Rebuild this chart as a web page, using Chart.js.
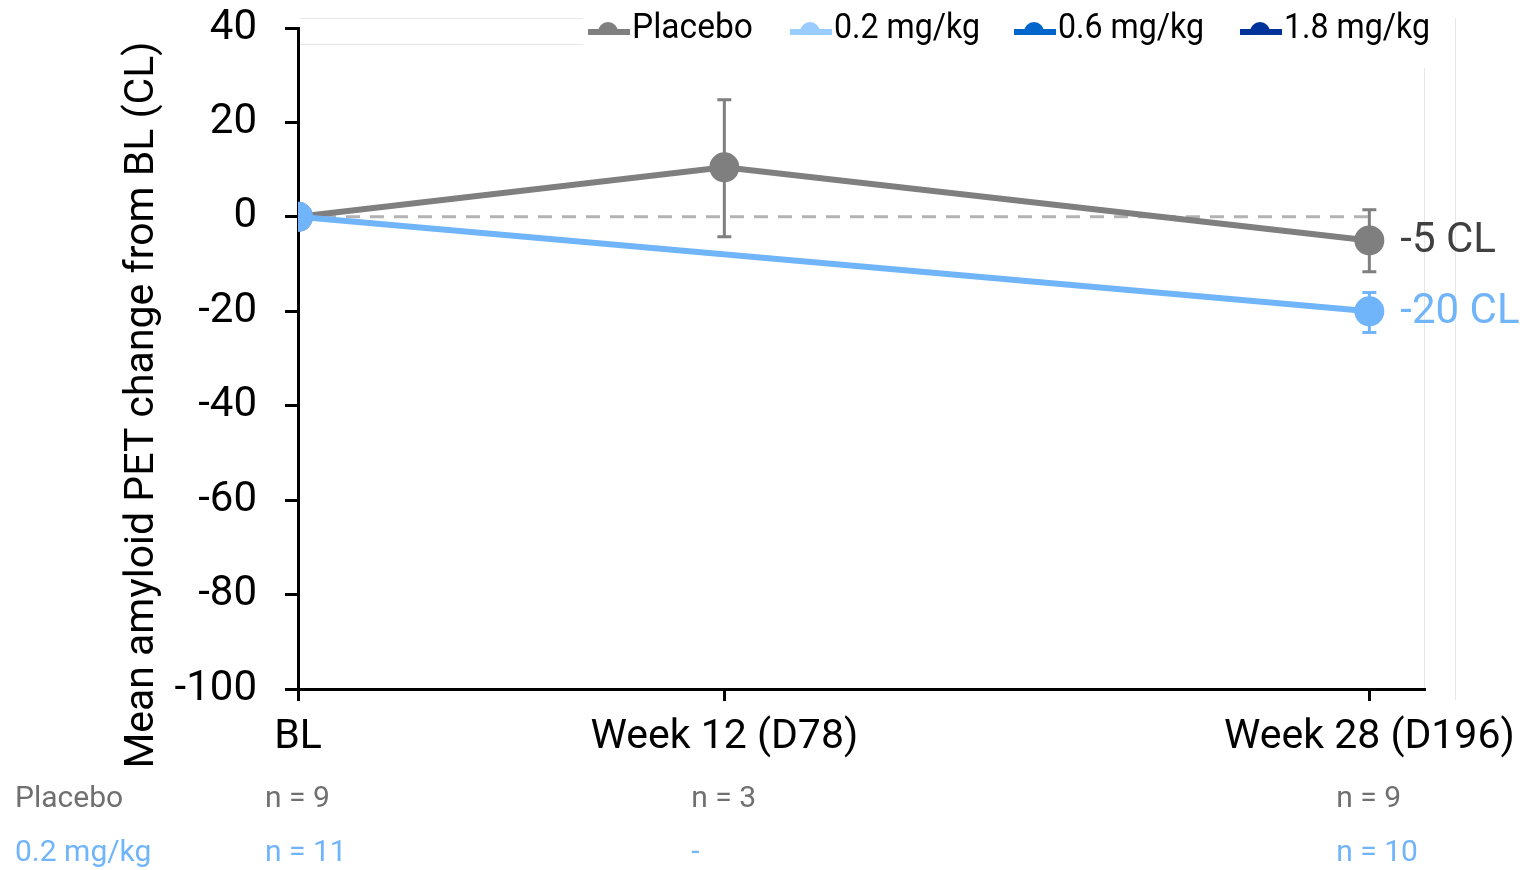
<!DOCTYPE html>
<html>
<head>
<meta charset="utf-8">
<script src="https://cdn.jsdelivr.net/npm/chart.js@4.4.1/dist/chart.umd.min.js"></script>
<style>
	html, body { margin: 0; padding: 0; background: #ffffff; }
	#wrap { width: 1527px; height: 870px; position: relative; }
</style>
</head>
<body>
<div id="wrap"><canvas id="chart" width="1527" height="870"></canvas></div>
<script>
const timeDays = [0, 78, 196];
const tickLabels = ["BL", "Week 12 (D78)", "Week 28 (D196)"];

const placeboMean = [0, 10.5, -5];
const placeboUpper = [null, 24.8, 1.5];
const placeboLower = [null, -4.2, -11.6];

const dose02Mean = [0, null, -20];
const dose02Upper = [null, null, -16];
const dose02Lower = [null, null, -24.5];

const placeboN = ["n = 9", "n = 3", "n = 9"];
const dose02N = ["n = 11", "-", "n = 10"];

const legendNames = ["Placebo", "0.2 mg/kg", "0.6 mg/kg", "1.8 mg/kg"];
const legendColors = ["#7f7f7f", "#99ccff", "#0066cc", "#003399"];

const endLabels = ["-5 CL", "-20 CL"];

const grey = "#7f7f7f";
const blue = "#70b4fa";
const fontFamily = "Roboto, 'Noto Sans', sans-serif";

function toPoints(values)
{
	return timeDays.map((t, i) => ({ x: t, y: values[i] }));
}

const errorBarsPlugin =
{
	id: "errorBars",
	beforeDatasetsDraw(chart)
	{
		const ctx = chart.ctx;
		const xs = chart.scales.x;
		const ys = chart.scales.y;
		const sets = [
			{ upper: placeboUpper, lower: placeboLower, color: grey },
			{ upper: dose02Upper, lower: dose02Lower, color: blue }
		];

		ctx.save();
		ctx.lineWidth = 3;
		for(const s of sets)
		{
			ctx.strokeStyle = s.color;
			timeDays.forEach((t, i) =>
			{
				if(s.upper[i] == null) return;
				const x = xs.getPixelForValue(t);
				const y1 = ys.getPixelForValue(s.upper[i]);
				const y2 = ys.getPixelForValue(s.lower[i]);
				ctx.beginPath();
				ctx.moveTo(x, y1); ctx.lineTo(x, y2);
				ctx.moveTo(x - 7, y1); ctx.lineTo(x + 7, y1);
				ctx.moveTo(x - 7, y2); ctx.lineTo(x + 7, y2);
				ctx.stroke();
			});
		}
		ctx.restore();
	}
};

const extrasPlugin =
{
	id: "extras",
	afterDraw(chart)
	{
		const ctx = chart.ctx;
		const xs = chart.scales.x;
		const ys = chart.scales.y;

		ctx.save();

		// faint frame leftovers
		ctx.strokeStyle = "#e6e6e6";
		ctx.lineWidth = 1;
		ctx.beginPath();
		ctx.moveTo(300, 18.5); ctx.lineTo(583, 18.5);
		ctx.moveTo(300, 44.5); ctx.lineTo(583, 44.5);
		ctx.moveTo(1455.5, 18); ctx.lineTo(1455.5, 700);
		ctx.moveTo(1424.5, 68); ctx.lineTo(1424.5, 688);
		ctx.stroke();

		// legend
		const legendX = [588, 790, 1014, 1240];
		const legendTextW = [121, 146, 146, 146];
		ctx.font = "35px " + fontFamily;
		ctx.textBaseline = "middle";
		ctx.textAlign = "left";
		legendNames.forEach((name, i) =>
		{
			const x0 = legendX[i];
			const c = legendColors[i];
			ctx.strokeStyle = c;
			ctx.fillStyle = c;
			ctx.lineWidth = 6;
			ctx.beginPath();
			ctx.moveTo(x0, 32); ctx.lineTo(x0 + 42, 32);
			ctx.stroke();
			ctx.beginPath();
			ctx.arc(x0 + 20, 32, 10, Math.PI, 2 * Math.PI);
			ctx.fill();
			ctx.fillStyle = "#000000";
			ctx.fillText(name, x0 + 44, 29, legendTextW[i]);
		});

		// y axis title
		ctx.save();
		ctx.translate(143, 405);
		ctx.rotate(-Math.PI / 2);
		ctx.textAlign = "center";
		ctx.textBaseline = "middle";
		ctx.fillStyle = "#000000";
		ctx.font = "41px " + fontFamily;
		ctx.fillText("Mean amyloid PET change from BL (CL)", 0, 0);
		ctx.restore();

		// end labels
		ctx.font = "42px " + fontFamily;
		ctx.textAlign = "left";
		ctx.textBaseline = "middle";
		const lastX = xs.getPixelForValue(timeDays[2]) + 31;
		ctx.fillStyle = "#404040";
		ctx.fillText(endLabels[0], lastX, ys.getPixelForValue(placeboMean[2]) + 1);
		ctx.fillStyle = blue;
		ctx.fillText(endLabels[1], lastX, ys.getPixelForValue(dose02Mean[2]) + 1);

		// n table
		ctx.font = "30px " + fontFamily;
		ctx.fillStyle = "#707070";
		ctx.fillText(legendNames[0], 15, 799);
		placeboN.forEach((t, i) => ctx.fillText(t, xs.getPixelForValue(timeDays[i]) - 33, 799));
		ctx.fillStyle = blue;
		ctx.fillText(legendNames[1], 15, 853);
		dose02N.forEach((t, i) => ctx.fillText(t, xs.getPixelForValue(timeDays[i]) - 33, 853));

		ctx.restore();
	}
};

new Chart(document.getElementById("chart"),
{
	type: "line",
	data:
	{
		datasets:
		[
			{
				label: legendNames[1],
				data: toPoints(dose02Mean),
				borderColor: blue,
				backgroundColor: blue,
				borderWidth: 6,
				pointRadius: 12,
				pointHoverRadius: 12,
				spanGaps: true,
				order: 0
			},
			{
				label: legendNames[0],
				data: toPoints(placeboMean),
				borderColor: grey,
				backgroundColor: grey,
				borderWidth: 6,
				pointRadius: 12,
				pointHoverRadius: 12,
				order: 1
			},
			{
				label: "zero",
				data: [ { x: timeDays[0], y: 0 }, { x: timeDays[2], y: 0 } ],
				borderColor: "#b3b3b3",
				borderWidth: 3,
				borderDash: [14, 10],
				pointRadius: 0,
				order: 2
			},
			{ label: legendNames[2], data: [], borderColor: legendColors[2], order: 3 },
			{ label: legendNames[3], data: [], borderColor: legendColors[3], order: 4 }
		]
	},
	options:
	{
		responsive: false,
		animation: false,
		layout: { padding: { left: 0, right: 103, top: 28, bottom: 0 } },
		plugins: { legend: { display: false }, tooltip: { enabled: false } },
		scales:
		{
			x:
			{
				type: "linear",
				min: 0,
				max: 206,
				afterBuildTicks: scale => { scale.ticks = timeDays.map(v => ({ value: v })); },
				afterFit: scale => { scale.height = 181; scale.paddingLeft = 0; scale.paddingRight = 0; },
				ticks:
				{
					autoSkip: false,
					maxRotation: 0,
					padding: 12,
					color: "#000000",
					font: { family: fontFamily, size: 41 },
					callback: val => tickLabels[timeDays.indexOf(val)]
				},
				grid: { drawOnChartArea: false, drawTicks: true, tickLength: 12, color: "#000000", lineWidth: 3 },
				border: { display: true, color: "#000000", width: 3 }
			},
			y:
			{
				min: -100,
				max: 40,
				afterFit: scale => { scale.width = 298; scale.paddingTop = 0; scale.paddingBottom = 0; },
				ticks:
				{
					stepSize: 20,
					padding: 28,
					color: "#000000",
					font: { family: fontFamily, size: 42 }
				},
				grid: { drawOnChartArea: false, drawTicks: true, tickLength: 13, color: "#000000", lineWidth: 3 },
				border: { display: true, color: "#000000", width: 3 }
			}
		}
	},
	plugins: [ errorBarsPlugin, extrasPlugin ]
});
</script>
</body>
</html>
